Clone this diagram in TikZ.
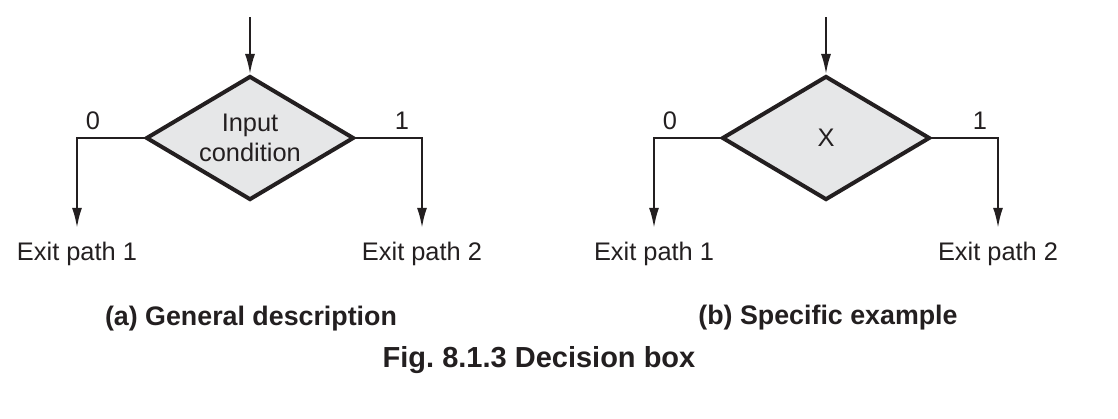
\documentclass[tikz,border=0pt]{standalone}
\usepackage{fontspec}
\setmainfont{Liberation Sans}
\usepackage{tikz}
\usetikzlibrary{shapes.geometric,arrows.meta,positioning}
\definecolor{ink}{HTML}{231F20}
\definecolor{boxgray}{HTML}{E6E7E8}

\begin{document}
\begin{tikzpicture}[x=0.5pt,y=-0.5pt,>={Latex[length=10pt,width=5pt]},
                    font=\fontsize{12.7}{15}\selectfont]
  \tikzstyle{decision}=[diamond,draw=ink,line width=2pt,fill=boxgray,
                        minimum width=104pt,minimum height=62pt,inner sep=0pt]
  \tikzstyle{boxtext}=[align=center,inner sep=0pt,text=ink]
  \tikzstyle{flow}=[draw=ink,line width=1pt]
  \tikzstyle{exitlabel}=[anchor=base,inner xsep=1pt,inner ysep=6.7pt,text=ink]
  \tikzstyle{branch}=[inner sep=0pt,text=ink]
  \tikzstyle{caption}=[anchor=base,text=ink,font=\bfseries\fontsize{13.4}{15}\selectfont]

  \useasboundingbox (0,0) rectangle (1118,418);

  % (a) general description
  \coordinate (inA) at (250,17);
  \node [decision] (dA) at (250,138) {};
  \node [boxtext] (tA) at (dA) {Input\\condition};
  \node [exitlabel] (exA1) at (77,260) {Exit path 1};
  \node [exitlabel] (exA2) at (422,260) {Exit path 2};
  \node [branch] (zeroA) at (93,121) {0};
  \node [branch] (oneA) at (402,121) {1};
  \draw [flow,->] (inA) -- (dA);
  \draw [flow,->] (dA.west) -| (exA1.north);
  \draw [flow,->] (dA.east) -| (exA2.north);

  % (b) specific example
  \coordinate (inB) at (826,17);
  \node [decision] (dB) at (826,138) {};
  \node [boxtext] (tB) at (dB) {X};
  \node [exitlabel] (exB1) at (654,260) {Exit path 1};
  \node [exitlabel] (exB2) at (998,260) {Exit path 2};
  \node [branch] (zeroB) at (670,121) {0};
  \node [branch] (oneB) at (980,121) {1};
  \draw [flow,->] (inB) -- (dB);
  \draw [flow,->] (dB.west) -| (exB1.north);
  \draw [flow,->] (dB.east) -| (exB2.north);

  % captions
  \node [caption] (capA) at (251,325) {(a) General description};
  \node [caption] (capB) at (828,324) {(b) Specific example};
  \node [caption,font=\bfseries\fontsize{14.5}{16}\selectfont] (fig) at (539,367)
    {Fig.\ 8.1.3 Decision box};
\end{tikzpicture}
\end{document}
